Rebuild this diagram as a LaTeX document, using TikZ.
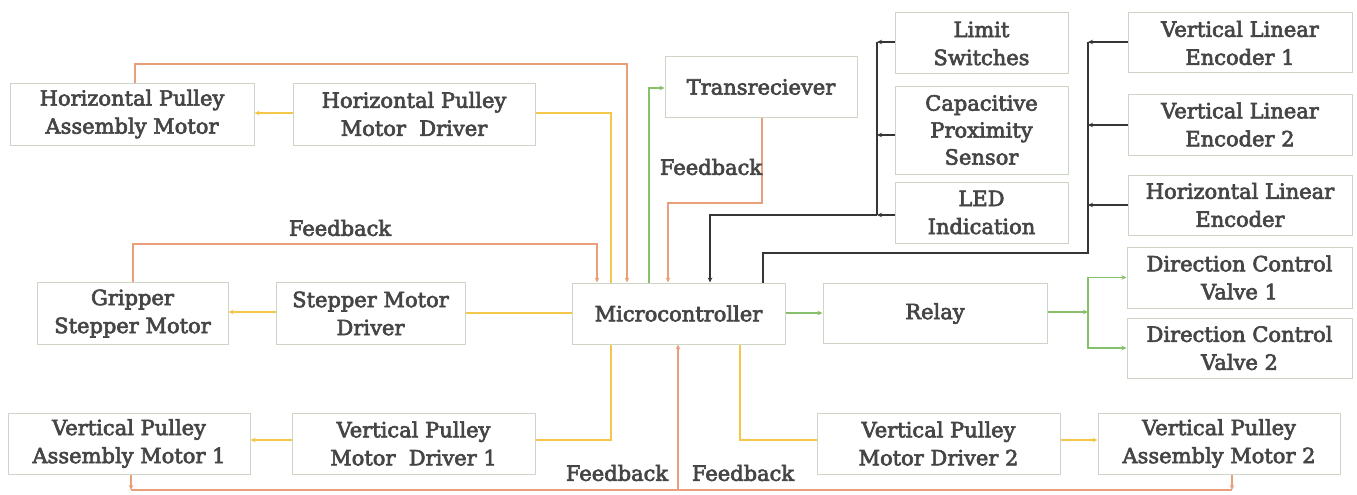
\documentclass[tikz,border=0pt]{standalone}
\usepackage{fontspec}
\setmainfont{DejaVu Serif}
\newfontfamily\blkfont{DejaVu Serif}[FakeBold=3]
\usetikzlibrary{arrows.meta}
\definecolor{boxline}{HTML}{CDD5C6}
\definecolor{txt}{HTML}{454545}
\definecolor{fb}{HTML}{E9A07A}
\definecolor{drv}{HTML}{F4C64A}
\definecolor{sig}{HTML}{86C06A}
\definecolor{bus}{HTML}{353535}
\tikzset{
  blk/.style={draw=boxline, line width=1pt, fill=white, align=center, text=txt,
    font=\blkfont\fontsize{21}{28}\selectfont, inner sep=0pt, anchor=center},
  lbl/.style={text=txt, font=\blkfont\fontsize{21}{24}\selectfont, inner sep=0pt},
  tip/.style={-{Stealth[length=5pt,width=4.5pt]}},
  fbline/.style={draw=fb, line width=1.7pt},
  drvline/.style={draw=drv, line width=1.7pt},
  sigline/.style={draw=sig, line width=1.5pt},
  busline/.style={draw=bus, line width=2.2pt},
}
\begin{document}
\begin{tikzpicture}[x=1pt,y=-1pt]
\useasboundingbox (0,0) rectangle (1357,495);
\fill[white] (0,0) rectangle (1357,495);

% blocks
\node[blk, minimum width=244, minimum height=62] (hpam) at (132,114) {Horizontal Pulley\\Assembly Motor};
\node[blk, minimum width=242, minimum height=62] (hpmd) at (414,114) {Horizontal Pulley\\Motor\ \ Driver};
\node[blk, minimum width=192, minimum height=60] (trx) at (761,87) {Transreciever};
\node[blk, minimum width=173, minimum height=61] (lim) at (981.5,43.5) {Limit\\Switches};
\node[blk, minimum width=173, minimum height=88, font=\blkfont\fontsize{21}{27}\selectfont] (cap) at (981.5,130) {Capacitive\\Proximity\\Sensor};
\node[blk, minimum width=173, minimum height=61] (led) at (981.5,212.5) {LED\\Indication};
\node[blk, minimum width=224, minimum height=60] (vle1) at (1240,43) {Vertical Linear\\Encoder 1};
\node[blk, minimum width=224, minimum height=61] (vle2) at (1240,124.5) {Vertical Linear\\Encoder 2};
\node[blk, minimum width=224, minimum height=60] (hle) at (1240,205) {Horizontal Linear\\Encoder};
\node[blk, minimum width=191, minimum height=62] (gsm) at (132.5,313.5) {Gripper\\Stepper Motor};
\node[blk, minimum width=189, minimum height=62] (smd) at (370.5,313.5) {Stepper Motor\\Driver};
\node[blk, minimum width=213, minimum height=61] (mc) at (678.5,313.5) {Microcontroller};
\node[blk, minimum width=224, minimum height=60] (relay) at (935,313.5) {Relay};
\node[blk, minimum width=225, minimum height=61] (dcv1) at (1239.5,277.5) {Direction Control\\Valve 1};
\node[blk, minimum width=225, minimum height=60] (dcv2) at (1239.5,348) {Direction Control\\Valve 2};
\node[blk, minimum width=242, minimum height=61] (vpam1) at (129,443.5) {Vertical Pulley\\Assembly Motor 1};
\node[blk, minimum width=243, minimum height=61] (vpmd1) at (413.5,443.5) {Vertical Pulley\\Motor\ \ Driver 1};
\node[blk, minimum width=243, minimum height=61] (vpmd2) at (938.5,443.5) {Vertical Pulley\\Motor Driver 2};
\node[blk, minimum width=242, minimum height=61] (vpam2) at (1219,443.5) {Vertical Pulley\\Assembly Motor 2};

% routing points
\coordinate (fbbot) at (678,490);
\coordinate (snsbus) at (877,215);
\coordinate (encbus) at (1088,253);
\coordinate (dcvbus) at (1088,312);

% driver lines (yellow)
\draw[drvline] (hpmd.east |- 0,113) -| (mc.north -| 611,0);
\draw[drvline, tip] (hpmd.west |- 0,113) -- (hpam.east |- 0,113);
\draw[drvline] (smd.east |- 0,313) -- (mc.west |- 0,313);
\draw[drvline, tip] (smd.west |- 0,312) -- (gsm.east |- 0,312);
\draw[drvline] (vpmd1.east |- 0,440) -| (mc.south -| 611,0);
\draw[drvline, tip] (vpmd1.west |- 0,440) -- (vpam1.east |- 0,440);
\draw[drvline] (mc.south -| 740,0) |- (vpmd2.west |- 0,440);
\draw[drvline, tip] (vpmd2.east |- 0,440) -- (vpam2.west |- 0,440);

% feedback lines (orange)
\draw[fbline, tip] (hpam.north -| 135,0) |- (627,64) -- (mc.north -| 627,0);
\draw[fbline, tip] (gsm.north -| 133,0) |- (597,244) -- (mc.north -| 597,0);
\draw[fbline, tip] (trx.south -| 762,0) |- (668,203) -- (mc.north -| 668,0);
\draw[fbline, tip] (vpam1.south -| 131,0) -- (131,490);
\draw[fbline, tip] (vpam2.south -| 1232,0) -- (1232,490);
\draw[fbline] (131,490) -- (1232,490);
\draw[fbline, tip] (fbbot) -- (mc.south -| fbbot);

% signal lines (green)
\draw[sigline, tip] (mc.north -| 649,0) |- (trx.west |- 0,88);
\draw[sigline, tip] (mc.east |- 0,313) -- (relay.west |- 0,313);
\draw[sigline, tip] (relay.east |- dcvbus) -- (dcvbus);
\draw[sigline, tip] (dcvbus) |- (dcv1.west);
\draw[sigline, tip] (dcvbus) |- (dcv2.west);

% sensor bus (black)
\draw[busline, tip] (lim.west |- 0,42) -- (877,42);
\draw[busline, tip] (cap.west |- 0,135) -- (877,135);
\draw[busline, tip] (led.west |- snsbus) -- (snsbus);
\draw[busline] (877,42) -- (snsbus);
\draw[busline, tip] (snsbus) -| (mc.north -| 710,0);

% encoder bus (black)
\draw[busline, tip] (vle1.west |- 0,42) -- (1088,42);
\draw[busline, tip] (vle2.west |- 0,125) -- (1088,125);
\draw[busline, tip] (hle.west |- 0,205) -- (1088,205);
\draw[busline] (1088,42) -- (encbus) -| (mc.north -| 763,0);

% labels
\node[lbl] (fb1) at (340,228) {Feedback};
\node[lbl] (fb2) at (711,167) {Feedback};
\node[lbl] (fb3) at (617,473) {Feedback};
\node[lbl] (fb4) at (743,473) {Feedback};
\end{tikzpicture}
\end{document}
